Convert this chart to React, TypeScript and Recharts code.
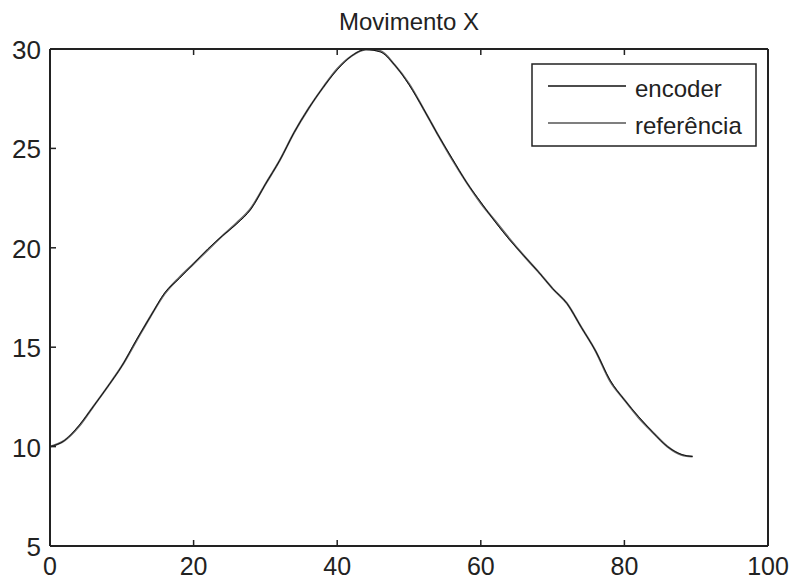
import React from 'react';
import { LineChart, Line, XAxis, YAxis } from 'recharts';

// sample instants (x) and position readings
const time = [
  0, 2, 4, 6, 8, 10, 12, 14, 16, 18, 20, 22, 24, 26, 28, 30, 32, 34, 36, 38, 40, 42, 44,
  46, 48, 50, 52, 54, 56, 58, 60, 62, 64, 66, 68, 70, 72, 74, 76, 78, 80, 82, 84, 86, 88, 89.5,
];
const encoder = [
  10.0, 10.3, 11.05, 12.0, 13.0, 14.05, 15.35, 16.55, 17.75, 18.45, 19.2, 19.95, 20.6, 21.2,
  21.95, 23.2, 24.4, 25.8, 27.0, 28.05, 28.95, 29.65, 29.97, 29.85, 29.2, 28.2, 27.0, 25.7,
  24.5, 23.3, 22.3, 21.3, 20.4, 19.6, 18.8, 17.95, 17.2, 16.0, 14.8, 13.35, 12.35, 11.5, 10.7,
  10.0, 9.6, 9.5,
];
const referencia = [
  10.0, 10.3, 11.0, 12.0, 13.0, 14.05, 15.3, 16.55, 17.7, 18.5, 19.2, 19.9, 20.6, 21.25,
  22.0, 23.2, 24.4, 25.8, 27.0, 28.05, 29.0, 29.65, 29.97, 29.9, 29.2, 28.25, 27.0, 25.7,
  24.45, 23.3, 22.25, 21.35, 20.45, 19.6, 18.8, 17.95, 17.2, 16.0, 14.8, 13.3, 12.35, 11.45,
  10.7, 10.0, 9.58, 9.5,
];
const xTicks = [0, 20, 40, 60, 80, 100];
const yTicks = [5, 10, 15, 20, 25, 30];
const seriesNames = ['encoder', 'referência'];

const data = time.map((t, i) => ({ t, encoder: encoder[i], referencia: referencia[i] }));

const FONT = '"Liberation Sans", Arial, Helvetica, sans-serif';
const INK = '#222';

const BottomTick = (props: any) => {
  const { x, y, payload } = props;
  return (
    <g>
      <line x1={x} y1={y} x2={x} y2={y - 6} stroke={INK} strokeWidth={1.5} />
      <text x={x} y={y + 29} textAnchor="middle" fontSize={25} fontFamily={FONT} fill={INK}>
        {payload.value}
      </text>
    </g>
  );
};

const TopTick = (props: any) => {
  const { x, y } = props;
  return <line x1={x} y1={y} x2={x} y2={y + 6} stroke={INK} strokeWidth={1.5} />;
};

const LeftTick = (props: any) => {
  const { x, y, payload } = props;
  return (
    <g>
      <line x1={x} y1={y} x2={x + 6} y2={y} stroke={INK} strokeWidth={1.5} />
      <text x={x - 9} y={y + 10} textAnchor="end" fontSize={26} fontFamily={FONT} fill={INK}>
        {payload.value}
      </text>
    </g>
  );
};

const RightTick = (props: any) => {
  const { x, y } = props;
  return <line x1={x} y1={y} x2={x - 6} y2={y} stroke={INK} strokeWidth={1.5} />;
};

const LegendBox = () => (
  <svg width={228} height={86} style={{ position: 'absolute', left: 530, top: 62 }}>
    <rect x={2} y={2} width={224} height={82} fill="#fff" stroke={INK} strokeWidth={1.5} />
    {seriesNames.map((name, i) => (
      <g key={name}>
        <line
          x1={18}
          x2={96}
          y1={24 + i * 37}
          y2={24 + i * 37}
          stroke={i === 0 ? '#111' : '#555'}
          strokeWidth={1.5}
        />
        <text x={105} y={35 + i * 37} fontSize={24} fontFamily={FONT} fill={INK}>
          {name}
        </text>
      </g>
    ))}
  </svg>
);

export default function App() {
  return (
    <div style={{ position: 'absolute', left: 0, top: 0, width: 790, height: 580, background: '#fff' }}>
      <div
        style={{
          position: 'absolute',
          left: 50,
          width: 718,
          top: 10,
          textAlign: 'center',
          fontFamily: FONT,
          fontSize: 24,
          lineHeight: '24px',
          color: INK,
        }}
      >
        Movimento X
      </div>
      <LineChart width={790} height={580} data={data} margin={{ top: 48, right: 21, bottom: 4, left: 10 }}>
        <XAxis
          dataKey="t"
          type="number"
          domain={[0, 100]}
          ticks={xTicks}
          height={30}
          tickSize={0}
          tickMargin={0}
          tickLine={false}
          tick={BottomTick}
          axisLine={{ stroke: INK, strokeWidth: 2 }}
          interval={0}
        />
        <XAxis
          xAxisId="top"
          orientation="top"
          dataKey="t"
          type="number"
          domain={[0, 100]}
          ticks={xTicks}
          height={1}
          tickSize={0}
          tickMargin={0}
          tickLine={false}
          tick={TopTick}
          axisLine={{ stroke: INK, strokeWidth: 2 }}
          interval={0}
        />
        <YAxis
          type="number"
          domain={[5, 30]}
          ticks={yTicks}
          width={40}
          tickSize={0}
          tickMargin={0}
          tickLine={false}
          tick={LeftTick}
          axisLine={{ stroke: INK, strokeWidth: 2 }}
          interval={0}
        />
        <YAxis
          yAxisId="right"
          orientation="right"
          type="number"
          domain={[5, 30]}
          ticks={yTicks}
          width={1}
          tickSize={0}
          tickMargin={0}
          tickLine={false}
          tick={RightTick}
          axisLine={{ stroke: INK, strokeWidth: 2 }}
          interval={0}
        />
        <Line
          dataKey="referencia"
          name={seriesNames[1]}
          type="monotone"
          stroke="#666"
          strokeWidth={2}
          dot={false}
          isAnimationActive={false}
        />
        <Line
          dataKey="encoder"
          name={seriesNames[0]}
          type="monotone"
          stroke="#111"
          strokeWidth={1}
          dot={false}
          isAnimationActive={false}
        />
      </LineChart>
      <LegendBox />
    </div>
  );
}
